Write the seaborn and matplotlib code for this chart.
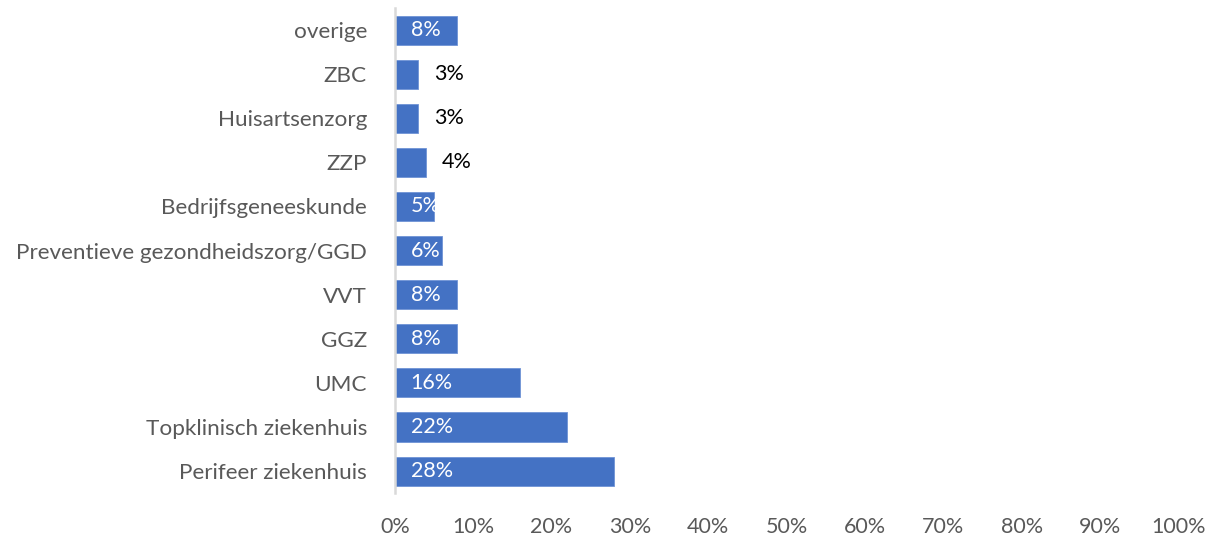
import matplotlib
matplotlib.use("Agg")
import matplotlib.pyplot as plt
import seaborn as sns
import pandas as pd
from matplotlib.transforms import offset_copy

categories = ["overige", "ZBC", "Huisartsenzorg", "ZZP", "Bedrijfsgeneeskunde",
              "Preventieve gezondheidszorg/GGD", "VVT", "GGZ", "UMC",
              "Topklinisch ziekenhuis", "Perifeer ziekenhuis"]
values = [8, 3, 3, 4, 5, 6, 8, 8, 16, 22, 28]
inside = [True, False, False, False, True, True, True, True, True, True, True]
xticks = [0, 10, 20, 30, 40, 50, 60, 70, 80, 90, 100]

sns.set_theme(style="white")
plt.rcParams['font.family'] = ['Lato', 'DejaVu Sans']

df = pd.DataFrame({"cat": categories, "val": values})

fig = plt.figure(figsize=(12.11, 5.36), dpi=100)
ax = fig.add_axes([0.326, 0.080, 0.647, 0.905])
sns.barplot(data=df, x="val", y="cat", orient="h", color="#4472C4",
            saturation=1, width=0.66, ax=ax, edgecolor="#6f93d6", linewidth=0.6)

ax.set_xlim(0, 100)
ax.set_ylim(len(categories) - 0.5, -0.5)
ax.set_xticks(xticks)
ax.set_xticklabels([f"{t}%" for t in xticks])
ax.set_xlabel("")
ax.set_ylabel("")
for s in ["top", "right", "bottom"]:
    ax.spines[s].set_visible(False)
ax.spines["left"].set_color("#D9D9D9")
ax.spines["left"].set_linewidth(1.8)
ax.tick_params(axis="x", length=0, pad=17, labelsize=15.5, labelcolor="#595959")
ax.tick_params(axis="y", length=0, pad=20, labelsize=16.2, labelcolor="#595959")

for i, (v, ins) in enumerate(zip(values, inside)):
    tr = offset_copy(ax.transData, fig=fig, x=16, y=0, units="dots")
    if ins:
        ax.text(0, i, f"{v}%", transform=tr, color="white", fontsize=15.5,
                va="center", ha="left")
    else:
        ax.text(v, i, f"{v}%", transform=tr, color="black", fontsize=15.5,
                va="center", ha="left")

fig.savefig("out.png", dpi=100)
